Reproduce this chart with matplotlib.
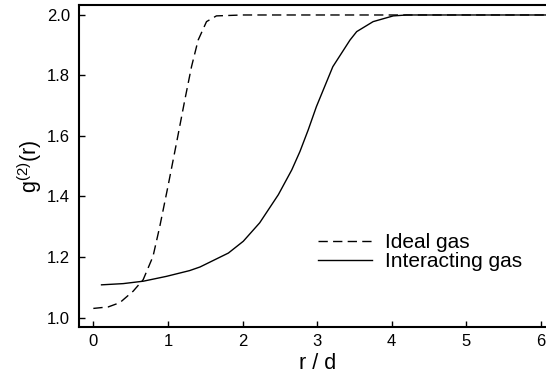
import matplotlib
matplotlib.use("Agg")
import matplotlib.pyplot as plt

plt.rcParams['font.family'] = ['Liberation Sans', 'DejaVu Sans']

# Ideal gas (dashed)
ideal_r = [0.0, 0.2, 0.355, 0.534, 0.668, 0.80, 0.89, 1.0, 1.115, 1.227, 1.316, 1.405, 1.517, 1.65, 2.0, 3.0, 4.0, 5.0, 6.3]
ideal_g = [1.03, 1.035, 1.049, 1.087, 1.125, 1.202, 1.30, 1.433, 1.577, 1.72, 1.829, 1.917, 1.978, 1.997, 2.0, 2.0, 2.0, 2.0, 2.0]

# Interacting gas (solid)
inter_r = [0.11, 0.4, 0.67, 0.98, 1.29, 1.43, 1.81, 2.01, 2.23, 2.48, 2.66, 2.77, 2.88, 2.99, 3.21, 3.44, 3.53, 3.75, 4.02, 4.2, 6.3]
inter_g = [1.108, 1.112, 1.12, 1.136, 1.155, 1.167, 1.213, 1.252, 1.313, 1.406, 1.488, 1.549, 1.62, 1.697, 1.829, 1.917, 1.945, 1.978, 1.997, 2.0, 2.0]

xticks = [0, 1, 2, 3, 4, 5, 6]
yticks = [1.0, 1.2, 1.4, 1.6, 1.8, 2.0]

W, H = 546, 382
fig = plt.figure(figsize=(W / 100, H / 100), dpi=100)
left, right, top, bottom = 79, 557, 5, 327
ax = fig.add_axes([left / W, (H - bottom) / H, (right - left) / W, (bottom - top) / H])

ax.plot(ideal_r, ideal_g, color='black', lw=1.0, dashes=(6.7, 3.8), label='Ideal gas')
ax.plot(inter_r, inter_g, color='black', lw=1.0, label='Interacting gas')

ax.set_xlim(-0.192, 6.215)
ax.set_ylim(0.9686, 2.033)
ax.set_xticks(xticks)
ax.set_xticklabels([str(t) for t in xticks])
ax.set_yticks(yticks)
ax.set_yticklabels([f"{t:.1f}" for t in yticks])

for s in ['left', 'bottom', 'top']:
    ax.spines[s].set_linewidth(1.5)
ax.spines['right'].set_visible(False)
ax.tick_params(direction='in', length=4, width=1.0, labelsize=12, pad=5)
ax.tick_params(axis='y', pad=6.5)
ax.tick_params(top=False, right=False)

ax.set_xlabel('r / d', fontsize=15.5, labelpad=3)
ax.set_ylabel(r'$\mathregular{g^{(2)}(r)}$', fontsize=15.5, labelpad=2)

ax.legend(loc='upper left', bbox_to_anchor=(318 / W, 1 - 233 / H), bbox_transform=fig.transFigure,
          frameon=False, fontsize=15, handlelength=2.6, handletextpad=0.6,
          labelspacing=0.0, borderpad=0, borderaxespad=0)

fig.savefig('out.png', dpi=100)
